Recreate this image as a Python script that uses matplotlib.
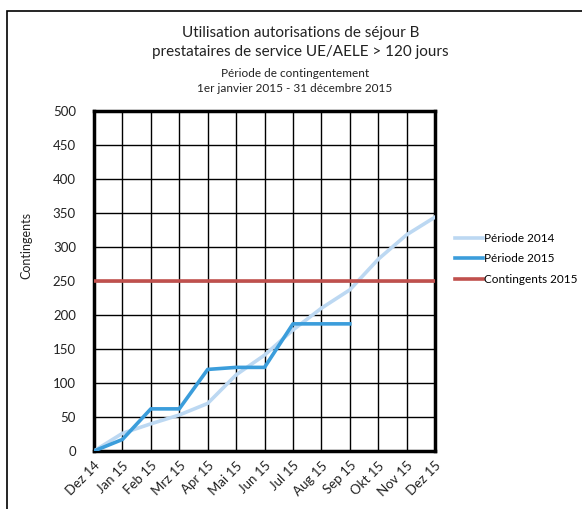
import matplotlib.pyplot as plt
from matplotlib.patches import Rectangle

# data
months = ["Dez 14", "Jan 15", "Feb 15", "Mrz 15", "Apr 15", "Mai 15", "Jun 15",
          "Jul 15", "Aug 15", "Sep 15", "Okt 15", "Nov 15", "Dez 15"]
periode_2014 = [0, 26, 40, 53, 70, 112, 141, 178, 210, 237, 282, 318, 344]
periode_2015 = [0, 17, 62, 62, 120, 123, 123, 187, 187, 187]
contingent_2015 = 250

plt.rcParams['font.family'] = ['Lato', 'DejaVu Sans']
text_col = '#222222'

fig = plt.figure(figsize=(5.82, 5.09), dpi=100)
ax = fig.add_axes([0.1615, 0.1139, 0.586, 0.668])

x = list(range(len(months)))
ax.plot(x, periode_2014, color='#bcd8f2', lw=2.6, label='Période 2014', zorder=3)
ax.plot(x[:len(periode_2015)], periode_2015, color='#3b9ddb', lw=2.6,
        label='Période 2015', zorder=4)
ax.plot(x, [contingent_2015] * len(x), color='#c0504d', lw=2.6,
        label='Contingents 2015', zorder=3)

ax.set_xlim(0, len(months) - 1)
ax.set_ylim(0, 500)
ax.set_yticks(range(0, 501, 50))
ax.set_xticks(x)
ax.set_xticklabels(months, rotation=45, ha='right', rotation_mode='anchor')
ax.tick_params(length=0, labelsize=9.5, colors=text_col)
ax.tick_params(axis='y', pad=13)
ax.tick_params(axis='x', pad=6)
ax.grid(True, color='black', lw=1)
ax.set_axisbelow(True)
for s in ax.spines.values():
    s.set_linewidth(2.5)
    s.set_color('black')
ax.set_ylabel('Contingents', fontsize=9, color=text_col)
ax.yaxis.set_label_coords(-0.18, 0.605)

ax.legend(loc='center left', bbox_to_anchor=(1.045, 0.565), frameon=False,
          fontsize=8.5, handlelength=2.4, handletextpad=0.05, labelspacing=0.8,
          borderaxespad=0)

fig.text(0.516, 0.935, 'Utilisation autorisations de séjour B', ha='center',
         va='center', fontsize=11, color=text_col)
fig.text(0.516, 0.898, 'prestataires de service UE/AELE > 120 jours',
         ha='center', va='center', fontsize=11, color=text_col)
fig.text(0.507, 0.855, 'Période de contingentement', ha='center',
         va='center', fontsize=8.5, color=text_col)
fig.text(0.507, 0.826, '1er janvier 2015 - 31 décembre 2015', ha='center',
         va='center', fontsize=8.5, color=text_col)

# outer chart frame
fig.patches.append(Rectangle((0.012, -0.01), 1.0, 0.988, transform=fig.transFigure,
                             fill=False, edgecolor='black', lw=1.2))

plt.savefig('out.png', dpi=100)
